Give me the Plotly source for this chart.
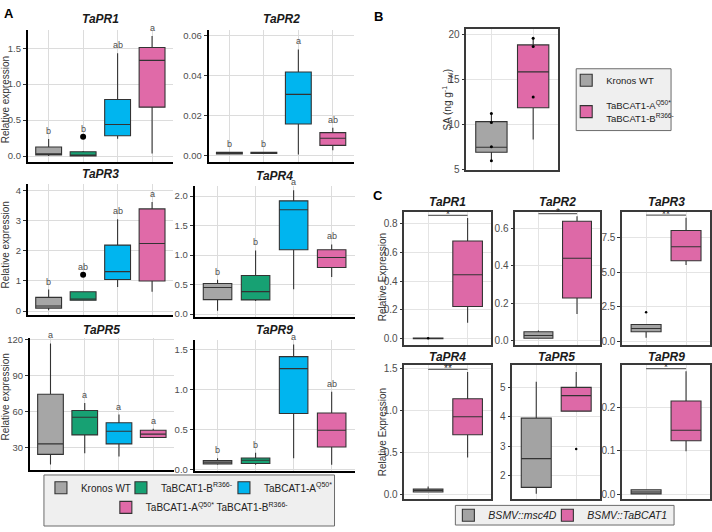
import plotly.graph_objects as go

W, H = 712, 532
FONT = "Liberation Sans, Arial, sans-serif"

# ---------------- panel A: relative expression in the four genotypes ----------------
genotypes = ["Kronos WT", "TaBCAT1-B<sup>R366-</sup>", "TaBCAT1-A<sup>Q50*</sup>",
             "TaBCAT1-A<sup>Q50*</sup> TaBCAT1-B<sup>R366-</sup>"]
genotype_colors = ["#a6a6a6", "#17a173", "#00b5ef", "#e06aa8"]

a_genes = ["TaPR1", "TaPR2", "TaPR3", "TaPR4", "TaPR5", "TaPR9"]
a_lower = {
    "TaPR1": [0.0, 0.0, 0.24, 0.037],
    "TaPR2": [0.0004, 0.0008, 0.0003, 0.0025],
    "TaPR3": [0.03, 0.34, 0.8, 0.64],
    "TaPR4": [0.055, 0.22, 0.42, 0.63],
    "TaPR5": [15.8, 25.3, 22.6, 37.9],
    "TaPR9": [0.06, 0.06, 0.14, 0.06],
}
a_q1 = {
    "TaPR1": [0.014, 0.0, 0.282, 0.68],
    "TaPR2": [0.0006, 0.0009, 0.0156, 0.0049],
    "TaPR3": [0.1, 0.36, 1.05, 1.0],
    "TaPR4": [0.245, 0.24, 1.09, 0.79],
    "TaPR5": [24.3, 40.5, 33.0, 38.4],
    "TaPR9": [0.07, 0.074, 0.70, 0.28],
}
a_median = {
    "TaPR1": [0.03, 0.01, 0.44, 1.33],
    "TaPR2": [0.0009, 0.0011, 0.0305, 0.0085],
    "TaPR3": [0.17, 0.4, 1.31, 2.24],
    "TaPR4": [0.45, 0.38, 1.77, 0.96],
    "TaPR5": [33.0, 55.2, 43.6, 41.2],
    "TaPR9": [0.09, 0.115, 1.26, 0.49],
}
a_q3 = {
    "TaPR1": [0.127, 0.06, 0.787, 1.51],
    "TaPR2": [0.0014, 0.0014, 0.0417, 0.0113],
    "TaPR3": [0.455, 0.64, 2.19, 3.39],
    "TaPR4": [0.517, 0.655, 1.92, 1.09],
    "TaPR5": [74.4, 60.9, 50.7, 44.4],
    "TaPR9": [0.11, 0.144, 1.41, 0.705],
}
a_upper = {
    "TaPR1": [0.236, 0.07, 1.43, 1.67],
    "TaPR2": [0.0016, 0.0015, 0.053, 0.0138],
    "TaPR3": [0.715, 0.64, 3.05, 3.62],
    "TaPR4": [0.58, 1.08, 2.1, 1.18],
    "TaPR5": [116.7, 67.1, 57.5, 45.7],
    "TaPR9": [0.14, 0.21, 1.56, 0.97],
}
a_outliers = {"TaPR1": [None, 0.27, None, None], "TaPR3": [None, 1.21, None, None]}
a_letters = {
    "TaPR1": ["b", "b", "ab", "a"],
    "TaPR2": ["b", "b", "a", "ab"],
    "TaPR3": ["b", "ab", "ab", "a"],
    "TaPR4": ["b", "b", "a", "ab"],
    "TaPR5": ["a", "a", "a", "a"],
    "TaPR9": ["b", "b", "a", "ab"],
}

# ---------------- panel B: SA content ----------------
b_groups = ["Kronos WT", "TaBCAT1-A<sup>Q50*</sup><br>TaBCAT1-B<sup>R366-</sup>"]
b_colors = ["#a6a6a6", "#e06aa8"]
b_lower = [5.94, 8.37]
b_q1 = [6.96, 11.89]
b_median = [7.5, 15.88]
b_q3 = [10.36, 18.88]
b_upper = [11.38, 19.72]
b_points = [[11.27, 10.26, 7.57, 6.01], [19.61, 18.71, 13.08]]
b_signif = "*"

# ---------------- panel C: VIGS ----------------
c_groups = ["<i>BSMV::msc4D</i>", "<i>BSMV::TaBCAT1</i>"]
c_colors = ["#a3a3a3", "#dd69a7"]
c_genes = ["TaPR1", "TaPR2", "TaPR3", "TaPR4", "TaPR5", "TaPR9"]
c_lower = {"TaPR1": [0.0, 0.11], "TaPR2": [0.008, 0.141], "TaPR3": [0.3, 5.51],
           "TaPR4": [0.025, 0.438], "TaPR5": [1.38, 4.2], "TaPR9": [0.001, 0.099]}
c_q1 = {"TaPR1": [0.0, 0.224], "TaPR2": [0.011, 0.227], "TaPR3": [0.72, 5.81],
        "TaPR4": [0.031, 0.709], "TaPR5": [1.6, 4.2], "TaPR9": [0.0016, 0.123]}
c_median = {"TaPR1": [0.001, 0.445], "TaPR2": [0.026, 0.441], "TaPR3": [0.96, 6.82],
            "TaPR4": [0.05, 0.922], "TaPR5": [2.58, 4.73], "TaPR9": [0.006, 0.147]}
c_q3 = {"TaPR1": [0.003, 0.68], "TaPR2": [0.046, 0.64], "TaPR3": [1.24, 7.99],
        "TaPR4": [0.066, 1.136], "TaPR5": [3.96, 5.01], "TaPR9": [0.011, 0.214]}
c_upper = {"TaPR1": [0.004, 0.84], "TaPR2": [0.053, 0.667], "TaPR3": [1.24, 8.9],
           "TaPR4": [0.097, 1.453], "TaPR5": [5.2, 5.53], "TaPR9": [0.012, 0.282]}
c_outliers = {"TaPR1": [0.003, None], "TaPR3": [2.13, None], "TaPR5": [None, 2.91]}
c_signif = {"TaPR1": "*", "TaPR2": "*", "TaPR3": "**", "TaPR4": "**", "TaPR5": "", "TaPR9": "*"}

# ---------------- layout of the sub-panels (pixel boxes x0, x1, y0, y1) ----------------
a_frames = {"TaPR1": (28, 173, 27, 161), "TaPR2": (209, 354, 27, 161),
            "TaPR3": (28, 173, 183, 317), "TaPR4": (195, 355, 185, 319),
            "TaPR5": (30, 174, 340, 475), "TaPR9": (195, 355, 342, 476)}
a_yaxes = {"TaPR1": ([-0.082, 1.746], 0.5, ".1f"), "TaPR2": ([-0.0034, 0.0625], 0.02, ".2f"),
           "TaPR3": ([-0.13, 4.23], 1, "d"), "TaPR4": ([-0.05, 2.18], 0.5, ".1f"),
           "TaPR5": ([11.2, 121.6], 30, "d"), "TaPR9": ([-0.02, 1.623], 0.5, ".1f")}
a_titles_y = {"TaPR1": 15, "TaPR2": 15, "TaPR3": 173, "TaPR4": 175, "TaPR5": 332, "TaPR9": 332}
b_frame = (467, 559, 25, 169)
c_frames = {"TaPR1": (405, 492, 212, 348), "TaPR2": (516, 601, 212, 348),
            "TaPR3": (623, 711, 212, 348), "TaPR4": (405, 492, 368, 504),
            "TaPR5": (513, 601, 368, 504), "TaPR9": (623, 711, 368, 504)}
c_yaxes = {"TaPR1": ([-0.048, 0.882], 0.2, ".1f"), "TaPR2": ([-0.028, 0.69], 0.2, ".1f"),
           "TaPR3": ([-0.26, 9.31], 2.5, ".1f"), "TaPR4": ([-0.047, 1.535], 0.5, ".1f"),
           "TaPR5": ([1.22, 5.77], 1, "d"), "TaPR9": ([-0.009, 0.296], 0.1, ".1f")}

fig = go.Figure()
axes_layout = {}
annotations = []
n_axes = 0


def px(x, y):
    return x / W, 1 - y / H


def paper_text(x, y, text, size, color="#333333", angle=0, pad=1):
    xp, yp = px(x, y)
    annotations.append(dict(xref="paper", yref="paper", x=xp, y=yp, text=text, textangle=angle,
                            showarrow=False, xanchor="center", yanchor="middle", borderpad=pad,
                            font=dict(size=size, color=color)))


def new_axes(frame, ncat, yinfo, boxed):
    global n_axes
    n_axes += 1
    sfx = "" if n_axes == 1 else str(n_axes)
    x0, x1, y0, y1 = frame
    yr, dtick, fmt = yinfo
    line = dict(showline=True, mirror=boxed,
                linecolor="#3a3a3a" if boxed else "black",
                linewidth=1.5 if boxed else 2)
    grid = "#e4e4e4" if boxed else "#dcdcdc"
    axes_layout["xaxis" + sfx] = dict(
        domain=[x0 / W, x1 / W], range=[-0.6, ncat - 0.4], anchor="y" + sfx,
        tickmode="array", tickvals=list(range(ncat)), showticklabels=False, ticks="",
        showgrid=True, gridcolor=grid, gridwidth=1, zeroline=False, fixedrange=True, **line)
    axes_layout["yaxis" + sfx] = dict(
        domain=[1 - y1 / H, 1 - y0 / H], range=yr, anchor="x" + sfx,
        tick0=0, dtick=dtick, tickformat=fmt, ticks="outside", ticklen=3, tickwidth=1,
        tickcolor="#333333", tickfont=dict(size=9.5 if not boxed else 10, color="#4d4d4d"),
        showgrid=True, gridcolor=grid, gridwidth=1, zeroline=False, fixedrange=True, **line)
    return "x" + sfx, "y" + sfx


def add_box(xa, ya, pos, lo, q1, med, q3, hi, color, name, legend=None, show=False, lw=None):
    fig.add_trace(go.Box(
        x=[pos], lowerfence=[lo], q1=[q1], median=[med], q3=[q3], upperfence=[hi],
        width=0.75, whiskerwidth=0, fillcolor=color, boxpoints=False,
        line=dict(color="#333333", width=1.1), name=name, legend=legend,
        showlegend=show, legendwidth=lw, hoverinfo="skip", xaxis=xa, yaxis=ya))


def add_points(xa, ya, xs, ys, size):
    fig.add_trace(go.Scatter(x=xs, y=ys, mode="markers", marker=dict(color="black", size=size),
                             showlegend=False, hoverinfo="skip", xaxis=xa, yaxis=ya, cliponaxis=False))


def add_bracket(xa, ya, level, text):
    fig.add_trace(go.Scatter(x=[0, 1], y=[level, level], mode="lines",
                             line=dict(color="#666666", width=1.3), showlegend=False,
                             hoverinfo="skip", xaxis=xa, yaxis=ya, cliponaxis=False))
    annotations.append(dict(xref=xa, yref=ya, x=0.5, y=level, text=text, showarrow=False,
                            xanchor="center", yanchor="middle", yshift=1, borderpad=0,
                            font=dict(size=10, color="#222222")))


def add_title(frame, y, text):
    paper_text((frame[0] + frame[1]) / 2, y, f"<b><i>{text}</i></b>", 12, "#1a1a1a", pad=0)


# ---- panel A ----
a_legend_width = [35, 58, None, None]
for gene in a_genes:
    xa, ya = new_axes(a_frames[gene], 4, a_yaxes[gene], False)
    add_title(a_frames[gene], a_titles_y[gene], gene)
    outs = a_outliers.get(gene, [None] * 4)
    for i in range(4):
        add_box(xa, ya, i, a_lower[gene][i], a_q1[gene][i], a_median[gene][i], a_q3[gene][i],
                a_upper[gene][i], genotype_colors[i], genotypes[i],
                legend="legend4" if i == 3 else "legend", show=(gene == "TaPR1"),
                lw=a_legend_width[i])
        top = a_upper[gene][i]
        if outs[i] is not None:
            add_points(xa, ya, [i], [outs[i]], 6)
            top = max(top, outs[i])
        annotations.append(dict(xref=xa, yref=ya, x=i, y=top, text=a_letters[gene][i],
                                showarrow=False, xanchor="center", yanchor="bottom", yshift=1,
                                font=dict(size=9, color="#4d4d4d")))

# ---- panel B ----
xa, ya = new_axes(b_frame, 2, ([5, 20.7], 5, "d"), True)
for i in range(2):
    add_box(xa, ya, i, b_lower[i], b_q1[i], b_median[i], b_q3[i], b_upper[i],
            b_colors[i], b_groups[i], legend="legend2", show=True)
    fig.data[-1].legendgroup = f"b{i}"
    add_points(xa, ya, [i] * len(b_points[i]), b_points[i], 3)
b_span = 20.7 - 5
add_bracket(xa, ya, max(b_upper) + 0.11 * b_span, b_signif)

# ---- panel C ----
c_legend_width = [54, None]
for gene in c_genes:
    yinfo = c_yaxes[gene]
    xa, ya = new_axes(c_frames[gene], 2, yinfo, True)
    add_title(c_frames[gene], 202 if c_frames[gene][2] < 300 else 360, gene)
    outs = c_outliers.get(gene, [None, None])
    for i in range(2):
        add_box(xa, ya, i, c_lower[gene][i], c_q1[gene][i], c_median[gene][i], c_q3[gene][i],
                c_upper[gene][i], c_colors[i], c_groups[i], legend="legend3",
                show=(gene == "TaPR1"), lw=c_legend_width[i])
        if outs[i] is not None:
            add_points(xa, ya, [i], [outs[i]], 2.5)
    if c_signif[gene]:
        span = yinfo[0][1] - yinfo[0][0]
        add_bracket(xa, ya, max(c_upper[gene]) + 0.02 * span, c_signif[gene])

# ---- axis titles and panel letters ----
for yc in (97, 245, 400):
    paper_text(5, yc, "Relative expression", 10, angle=-90)
for yc in (278, 436):
    paper_text(383, yc, "Relative Expression", 10, angle=-90)
paper_text(448, 97, "SA (ng g<sup>-1</sup> <sub>FW</sub>)", 10, angle=-90)
for letter, (lx, ly) in {"A": (9, 10), "B": (379, 13), "C": (379, 195)}.items():
    paper_text(lx, ly, f"<b>{letter}</b>", 13, "black")

# ---- legend backgrounds ----
shapes = []
for (x0, y0, x1, y1) in [(44, 480, 335, 532), (577, 66, 672, 129), (456, 511, 675, 531)]:
    p0 = px(x0, y1)
    p1 = px(x1, y0)
    shapes.append(dict(type="rect", xref="paper", yref="paper", x0=p0[0], y0=p0[1],
                       x1=p1[0], y1=p1[1], fillcolor="#efefef",
                       line=dict(color="#6b6b6b", width=1), layer="below"))

transparent = "rgba(0,0,0,0)"
leg_font = dict(size=10, color="#222222", family=FONT)
fig.update_layout(
    width=W, height=H, margin=dict(l=0, r=0, t=0, b=0),
    paper_bgcolor="white", plot_bgcolor="white",
    font=dict(family=FONT, size=10, color="#333333"),
    boxmode="overlay",
    annotations=annotations, shapes=shapes,
    legend=dict(orientation="h", x=41 / W, xanchor="left", y=1 - 493 / H, yanchor="middle",
                bgcolor=transparent, font=leg_font),
    legend4=dict(orientation="h", x=106 / W, xanchor="left", y=1 - 513 / H, yanchor="middle",
                 bgcolor=transparent, font=leg_font),
    legend2=dict(orientation="v", x=567 / W, xanchor="left", y=1 - 63 / H, yanchor="top",
                 bgcolor=transparent, font=dict(size=9.5, color="#222222", family=FONT),
                 traceorder="grouped", tracegroupgap=8),
    legend3=dict(orientation="h", x=449 / W, xanchor="left", y=1 - 521 / H, yanchor="middle",
                 bgcolor=transparent, font=dict(size=10.5, color="#222222", family=FONT)),
    **axes_layout,
)

# the page's default body margin would push the fixed-size figure off the window
fig.write_html("out.html", config={"displayModeBar": False},
               post_script="document.body.style.margin='0px';")
